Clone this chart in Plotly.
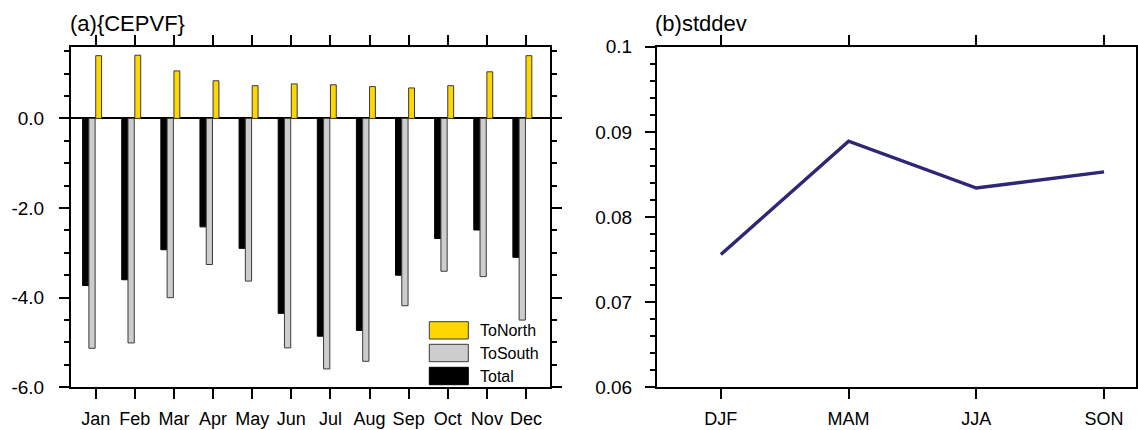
import plotly.graph_objects as go

# ---- data ----
months = ["Jan", "Feb", "Mar", "Apr", "May", "Jun", "Jul", "Aug", "Sep", "Oct", "Nov", "Dec"]
month_pos = list(range(1, 13))
to_north = [1.40, 1.41, 1.06, 0.84, 0.73, 0.77, 0.75, 0.71, 0.68, 0.73, 1.04, 1.40]
to_south = [-5.13, -5.01, -4.00, -3.26, -3.63, -5.12, -5.59, -5.42, -4.18, -3.41, -3.53, -4.50]
total = [-3.73, -3.60, -2.93, -2.42, -2.90, -4.35, -4.86, -4.73, -3.50, -2.68, -2.49, -3.10]

seasons = ["DJF", "MAM", "JJA", "SON"]
stddev = [0.0756, 0.0889, 0.0834, 0.0853]

left_yticks = [-6.0, -4.0, -2.0, 0.0]
left_yticklabels = ["-6.0", "-4.0", "-2.0", "0.0"]
right_yticks = [0.06, 0.07, 0.08, 0.09, 0.1]
right_yticklabels = ["0.06", "0.07", "0.08", "0.09", "0.1"]

legend_names = ["ToNorth", "ToSouth", "Total"]
legend_colors = ["#FFD700", "#CDCDCD", "#000000"]

# ---- figure ----
W, H = 1138, 430
FONT = "Liberation Sans, Arial, Helvetica, sans-serif"
OUT = "#3a3a3a"

fig = go.Figure()

bw = 0.16
fig.add_trace(go.Bar(x=month_pos, y=total, width=bw, offset=-0.335,
                     marker=dict(color="#000000", line=dict(color="#000000", width=1)),
                     name="Total", showlegend=False, xaxis="x", yaxis="y"))
fig.add_trace(go.Bar(x=month_pos, y=to_south, width=bw, offset=-0.175,
                     marker=dict(color="#CDCDCD", line=dict(color=OUT, width=1)),
                     name="ToSouth", showlegend=False, xaxis="x", yaxis="y"))
fig.add_trace(go.Bar(x=month_pos, y=to_north, width=0.15, offset=0.0,
                     marker=dict(color="#FFD700", line=dict(color=OUT, width=1)),
                     name="ToNorth", showlegend=False, xaxis="x", yaxis="y"))

fig.add_trace(go.Scatter(x=seasons, y=stddev, mode="lines",
                         line=dict(color="#2D2774", width=3.5),
                         showlegend=False, xaxis="x2", yaxis="y2"))

def px_x(p):
    return p / W

def px_y(p):
    return 1 - p / H

ydom = [px_y(387.3), px_y(46.7)]
axis_common = dict(showline=True, linecolor="black", linewidth=2, mirror="allticks",
                   ticks="outside", tickcolor="black", tickwidth=2, showgrid=False,
                   automargin=False)
xfont = dict(family=FONT, size=18, color="black")
yfont = dict(family=FONT, size=19, color="black")

fig.update_layout(
    width=W, height=H,
    autosize=False,
    margin=dict(l=0, r=0, t=0, b=0, pad=0),
    paper_bgcolor="white", plot_bgcolor="white",
    barmode="overlay",
    font=dict(family=FONT, color="black"),
    xaxis=dict(domain=[px_x(71), px_x(550)], range=[0.368, 12.614],
               tickvals=month_pos, ticktext=months, ticklen=10, tickfont=xfont,
               ticklabelstandoff=4, zeroline=False, **axis_common),
    yaxis=dict(domain=ydom, range=[-6.0, 1.6], tickvals=left_yticks,
               ticktext=left_yticklabels, ticklen=10, ticklabelstandoff=11, tickfont=yfont,
               zeroline=True, zerolinecolor="black", zerolinewidth=2,
               minor=dict(dtick=0.5, tick0=0, ticks="outside", ticklen=5,
                          tickwidth=2, tickcolor="black"),
               anchor="x", **axis_common),
    xaxis2=dict(domain=[px_x(657), px_x(1136)], range=[-0.5, 3.25],
                type="category", ticklen=10, ticklabelstandoff=4, tickfont=xfont,
                zeroline=False, anchor="y2", **axis_common),
    yaxis2=dict(domain=ydom, range=[0.06, 0.1], tickvals=right_yticks,
                ticktext=right_yticklabels, ticklen=10, ticklabelstandoff=9, tickfont=yfont,
                zeroline=False,
                minor=dict(dtick=0.002, tick0=0.06, ticks="outside", ticklen=5,
                           tickwidth=2, tickcolor="black"),
                anchor="x2", **axis_common),
)

# panel titles
fig.add_annotation(x=px_x(68), y=px_y(23), xref="paper", yref="paper",
                   text="(a){CEPVF}", showarrow=False, xanchor="left", yanchor="middle",
                   font=dict(family=FONT, size=22, color="black"))
fig.add_annotation(x=px_x(653), y=px_y(23), xref="paper", yref="paper",
                   text="(b)stddev", showarrow=False, xanchor="left", yanchor="middle",
                   font=dict(family=FONT, size=22, color="black"))

# custom legend (left panel)
rows = [(321.7, 339.0), (344.3, 361.7), (367.3, 384.7)]
for name, col, (t, b) in zip(legend_names, legend_colors, rows):
    fig.add_shape(type="rect", xref="paper", yref="paper",
                  x0=px_x(429.3), x1=px_x(468.3), y0=px_y(b), y1=px_y(t),
                  fillcolor=col, line=dict(color=OUT if col != "#000000" else "#000000", width=1))
    fig.add_annotation(x=px_x(478), y=px_y((t + b) / 2), xref="paper", yref="paper",
                       text=name, showarrow=False, xanchor="left", yanchor="middle",
                       font=dict(family=FONT, size=16, color="black"))

fig.write_html("out.html", config={"displayModeBar": False},
               post_script="document.body.style.margin='0';document.body.style.overflow='hidden';")
